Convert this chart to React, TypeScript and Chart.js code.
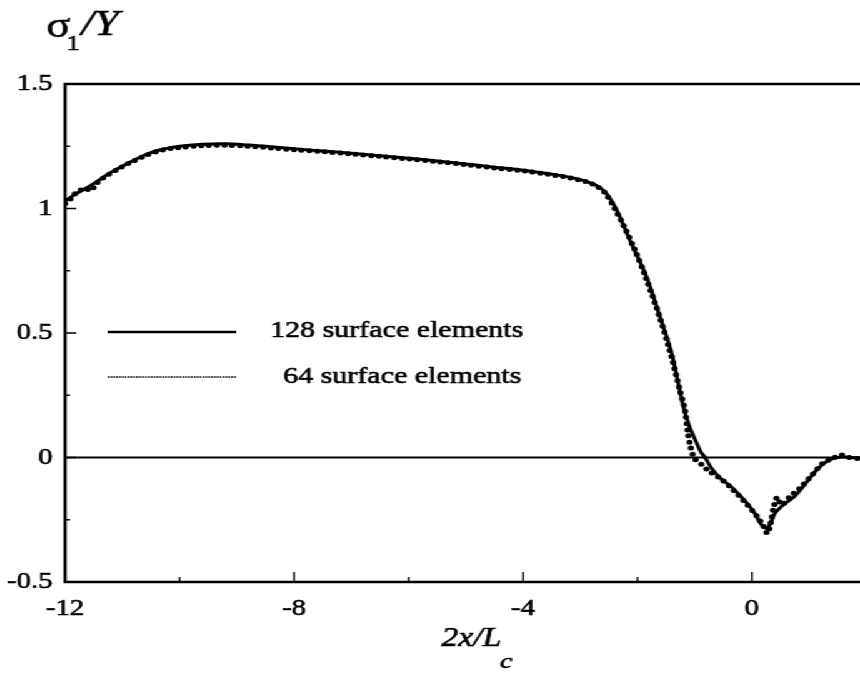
import { useEffect, useRef } from "react";
import { Chart, registerables } from "chart.js";

Chart.register(...registerables);

// Stress along the surface, 128-element discretisation
const x128 = [-12, -11.8, -11.5, -11.2, -11, -10.7, -10.4, -10, -9.6, -9.2, -8.8, -8.4, -8, -7.5, -7, -6.5, -6, -5.5, -5, -4.5, -4, -3.5, -3.2, -3, -2.85, -2.7, -2.55, -2.4, -2.3, -2.1, -1.85, -1.6, -1.4, -1.2, -1.1, -1.0, -0.9, -0.82, -0.7, -0.55, -0.35, -0.1, 0.05, 0.15, 0.25, 0.32, 0.4, 0.55, 0.75, 0.95, 1.15, 1.35, 1.55, 1.75, 1.9];
const s128 = [1.03, 1.06, 1.1, 1.145, 1.17, 1.205, 1.232, 1.25, 1.258, 1.26, 1.255, 1.248, 1.24, 1.231, 1.222, 1.212, 1.202, 1.191, 1.179, 1.166, 1.154, 1.138, 1.126, 1.116, 1.105, 1.09, 1.062, 1.01, 0.962, 0.855, 0.73, 0.56, 0.415, 0.205, 0.13, 0.075, 0.025, 0.0, -0.045, -0.083, -0.12, -0.18, -0.225, -0.265, -0.285, -0.265, -0.225, -0.19, -0.155, -0.1, -0.045, -0.01, 0.002, 0.0, -0.002];

// Stress along the surface, 64-element discretisation
const x64 = [-12, -11.9, -11.8, -11.65, -11.55, -11.45, -11.3, -11.1, -10.9, -10.6, -10.3, -10, -9.6, -9.2, -8.8, -8.4, -8, -7.5, -7, -6.5, -6, -5.5, -5, -4.5, -4, -3.5, -3.2, -3, -2.85, -2.7, -2.55, -2.4, -2.25, -2.05, -1.85, -1.6, -1.4, -1.26, -1.17, -1.12, -1.07, -1.0, -0.87, -0.75, -0.55, -0.35, -0.1, 0.1, 0.2, 0.27, 0.33, 0.38, 0.44, 0.52, 0.66, 0.85, 1.05, 1.25, 1.4, 1.55, 1.7, 1.9];
const s64 = [1.02, 1.04, 1.065, 1.08, 1.072, 1.1, 1.128, 1.155, 1.18, 1.212, 1.235, 1.245, 1.252, 1.254, 1.25, 1.243, 1.236, 1.228, 1.219, 1.209, 1.199, 1.188, 1.176, 1.163, 1.151, 1.135, 1.124, 1.113, 1.104, 1.088, 1.058, 1.0, 0.935, 0.835, 0.72, 0.555, 0.4, 0.27, 0.19, 0.1, 0.04, -0.005, -0.03, -0.055, -0.085, -0.125, -0.185, -0.24, -0.275, -0.305, -0.26, -0.2, -0.16, -0.19, -0.158, -0.12, -0.07, -0.02, -0.005, 0.01, 0.0, -0.005];

const xTickLabels = [-12, -8, -4, 0];
const yTickLabels = [-0.5, 0, 0.5, 1, 1.5];
const seriesNames = ["128 surface elements", "64 surface elements"];
const yTitle = { symbol: "σ", sub: "1", rest: "/Y" };
const xTitle = { main: "2x/L", sub: "c" };

const SERIF = '"Liberation Serif", "Times New Roman", serif';
const CANVAS_W = 688;
const CANVAS_H = 692;

function inkText(ctx: CanvasRenderingContext2D, text: string, x: number, y: number) {
  ctx.fillText(text, x, y);
  ctx.strokeText(text, x, y);
}

const decorations = {
  id: "decorations",
  beforeDatasetsDraw(chart: any) {
    const { ctx, chartArea, scales } = chart;
    const y0 = scales.y.getPixelForValue(0);
    ctx.save();
    ctx.strokeStyle = "#000";
    ctx.lineWidth = 2.2;
    ctx.beginPath();
    ctx.moveTo(chartArea.left, y0);
    ctx.lineTo(chartArea.right, y0);
    ctx.stroke();
    ctx.restore();
  },
  afterDatasetsDraw(chart: any) {
    const { ctx, chartArea: a, scales } = chart;
    ctx.save();
    ctx.strokeStyle = "#000";
    ctx.fillStyle = "#000";

    // frame: left, top, bottom
    ctx.lineWidth = 2.6;
    ctx.beginPath();
    ctx.moveTo(a.right, a.top);
    ctx.lineTo(a.left, a.top);
    ctx.lineTo(a.left, a.bottom);
    ctx.lineTo(a.right, a.bottom);
    ctx.stroke();

    // inward tick marks
    ctx.lineWidth = 1.4;
    ctx.beginPath();
    for (const t of scales.x.ticks) {
      const px = scales.x.getPixelForValue(t.value);
      const len = Math.round(t.value) % 4 === 0 ? 10 : 5;
      ctx.moveTo(px, a.bottom);
      ctx.lineTo(px, a.bottom - len);
    }
    for (const t of scales.y.ticks) {
      const py = scales.y.getPixelForValue(t.value);
      const len = Math.round(t.value * 4) % 2 === 0 ? 9 : 4;
      ctx.moveTo(a.left, py);
      ctx.lineTo(a.left + len, py);
    }
    ctx.stroke();

    // legend
    ctx.lineWidth = 2.6;
    ctx.beginPath();
    ctx.moveTo(86, 332);
    ctx.lineTo(189, 332);
    ctx.stroke();
    ctx.save();
    ctx.strokeStyle = "#333";
    ctx.lineWidth = 1.8;
    ctx.setLineDash([1.4, 0.9]);
    ctx.beginPath();
    ctx.moveTo(86, 377);
    ctx.lineTo(189, 377);
    ctx.stroke();
    ctx.restore();

    ctx.lineWidth = 0.6;
    ctx.textAlign = "left";
    ctx.textBaseline = "alphabetic";
    ctx.font = `24px ${SERIF}`;
    inkText(ctx, seriesNames[0], 216, 337);
    inkText(ctx, seriesNames[1], 226.5, 383);

    // y-axis title
    ctx.font = `36px ${SERIF}`;
    inkText(ctx, yTitle.symbol, 37, 37);
    ctx.font = `22px ${SERIF}`;
    inkText(ctx, yTitle.sub, 53, 50);
    ctx.font = `italic 36px ${SERIF}`;
    inkText(ctx, yTitle.rest, 65, 35);

    // x-axis title
    ctx.font = `italic 27px ${SERIF}`;
    inkText(ctx, xTitle.main, 353, 646);
    const w = ctx.measureText(xTitle.main).width;
    ctx.font = `italic 22px ${SERIF}`;
    inkText(ctx, xTitle.sub, 353 + w - 1, 668);

    ctx.restore();
  },
};

export default function App() {
  const canvasRef = useRef<HTMLCanvasElement | null>(null);

  useEffect(() => {
    const canvas = canvasRef.current;
    if (!canvas) return;
    const tickFont = { family: SERIF, size: 23 };
    const chart = new Chart(canvas, {
      type: "line",
      data: {
        datasets: [
          {
            label: seriesNames[0],
            data: x128.map((x, i) => ({ x, y: s128[i] })),
            borderColor: "#000",
            borderWidth: 3,
            pointRadius: 0,
            tension: 0.35,
            fill: false,
            order: 2,
          },
          {
            label: seriesNames[1],
            data: x64.map((x, i) => ({ x, y: s64[i] })),
            borderColor: "#000",
            borderWidth: 5,
            borderDash: [0, 6.2],
            borderCapStyle: "round",
            pointRadius: 0,
            tension: 0.3,
            fill: false,
            order: 1,
          },
        ],
      },
      options: {
        animation: false,
        responsive: false,
        devicePixelRatio: 1,
        layout: { padding: { top: 84, left: 0, right: 0, bottom: 0 } },
        plugins: {
          legend: { display: false },
          title: { display: false },
          tooltip: { enabled: false },
        },
        scales: {
          x: {
            type: "linear",
            min: -12,
            max: 1.886,
            grid: { display: false, drawTicks: false },
            border: { display: false },
            ticks: {
              stepSize: 2,
              includeBounds: false,
              autoSkip: false,
              maxRotation: 0,
              minRotation: 0,
              padding: 13,
              color: "#000",
              textStrokeColor: "#000",
              textStrokeWidth: 0.6,
              font: tickFont,
              callback: (v: any) => {
                const r = Math.round(Number(v));
                return xTickLabels.includes(r) ? String(r) : "";
              },
            },
            afterFit: (s: any) => {
              s.height = CANVAS_H - 582;
            },
          },
          y: {
            type: "linear",
            min: -0.5,
            max: 1.5,
            grid: { display: false, drawTicks: false },
            border: { display: false },
            ticks: {
              stepSize: 0.25,
              autoSkip: false,
              padding: 10,
              color: "#000",
              textStrokeColor: "#000",
              textStrokeWidth: 0.6,
              font: tickFont,
              callback: (v: any) => {
                const r = Math.round(Number(v) * 4) / 4;
                return yTickLabels.includes(r) ? String(r) : "";
              },
            },
            afterFit: (s: any) => {
              s.width = 52;
            },
          },
        },
      },
      plugins: [decorations],
    } as any);
    return () => chart.destroy();
  }, []);

  return (
    <div
      style={{
        position: "absolute",
        left: 0,
        top: 0,
        width: CANVAS_W,
        height: CANVAS_H,
        transform: "scaleX(1.25)",
        transformOrigin: "0 0",
        background: "#fff",
      }}
    >
      <canvas ref={canvasRef} width={CANVAS_W} height={CANVAS_H} style={{ display: "block" }} />
    </div>
  );
}
